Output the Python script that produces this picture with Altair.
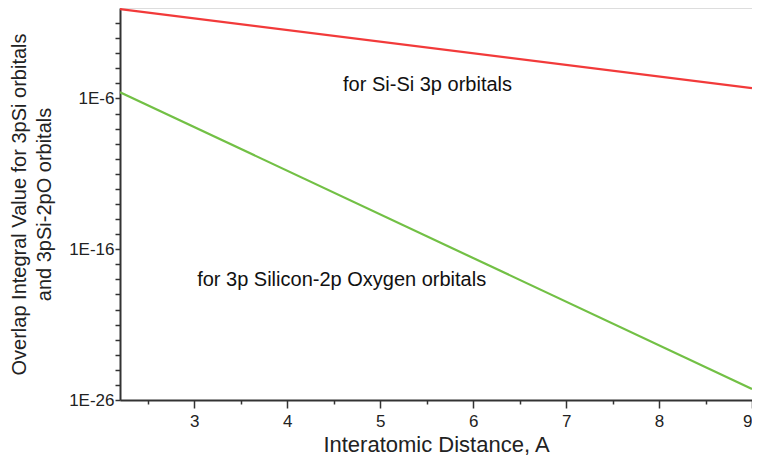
import altair as alt
import pandas as pd

# Data (straight lines on a log axis)
distance = [2.2, 9.0]
si_si = [0.85, 4.8e-6]
si_o = [2.6e-6, 5.4e-26]

labels_text = ["for Si-Si 3p orbitals", "for 3p Silicon-2p Oxygen orbitals"]
labels_x = [4.6, 3.03]
labels_y = [8e-6, 9e-19]

x_ticks = [2.5, 3, 3.5, 4, 4.5, 5, 5.5, 6, 6.5, 7, 7.5, 8, 8.5, 9]
y_ticks = [10.0 ** (-k) for k in range(26, 0, -1)]

rows = []
for d, v in zip(distance, si_si):
    rows.append({"x": d, "y": v, "series": "Si-Si"})
for d, v in zip(distance, si_o):
    rows.append({"x": d, "y": v, "series": "Si-O"})
df = pd.DataFrame(rows)
tdf = pd.DataFrame({"x": labels_x, "y": labels_y, "t": labels_text})

font = "Liberation Sans"

xscale = alt.Scale(domain=[2.2, 9.0], nice=False, zero=False)
yscale = alt.Scale(type="log", domain=[1e-26, 1.0], nice=False)

xaxis = alt.Axis(
    title="Interatomic Distance, A",
    values=x_ticks,
    labelExpr="datum.value % 1 === 0 ? datum.value : ''",
    tickSize={"condition": {"test": "datum.value % 1 === 0", "value": 8}, "value": 4},
    tickColor="#333333",
    tickWidth=1.5,
    domainColor="#333333",
    domainWidth=2,
    labelFont=font,
    labelFontSize=17,
    labelColor="#222222",
    labelPadding=5,
    titleFont=font,
    titleFontSize=22,
    titleFontWeight="normal",
    titleColor="#222222",
    titlePadding=5,
    grid=False,
)

yaxis = alt.Axis(
    title=["Overlap Integral Value for 3pSi orbitals", "and 3pSi-2pO orbitals"],
    values=y_ticks,
    labelExpr="indexof([-26, -16, -6], round(log(datum.value) / LN10)) >= 0 ? '1E' + round(log(datum.value) / LN10) : ''",
    tickSize=5,
    tickColor="#333333",
    tickWidth=1.5,
    domainColor="#333333",
    domainWidth=2,
    labelFont=font,
    labelFontSize=17,
    labelColor="#222222",
    labelPadding=1,
    titleFont=font,
    titleFontSize=20,
    titleFontWeight="normal",
    titleColor="#222222",
    titlePadding=14,
    titleLineHeight=25,
    grid=False,
)

lines = alt.Chart(df).mark_line(strokeWidth=2.2, clip=True).encode(
    x=alt.X("x:Q", scale=xscale, axis=xaxis),
    y=alt.Y("y:Q", scale=yscale, axis=yaxis),
    color=alt.Color(
        "series:N",
        scale=alt.Scale(domain=["Si-Si", "Si-O"], range=["#f23a3a", "#72c045"]),
        legend=None,
    ),
)

texts = alt.Chart(tdf).mark_text(
    align="left", baseline="middle", font=font, fontSize=20, color="#111111"
).encode(
    x=alt.X("x:Q", scale=xscale),
    y=alt.Y("y:Q", scale=yscale),
    text="t:N",
)

chart = (
    alt.layer(lines, texts)
    .properties(
        width=632,
        height=392,
        autosize=alt.AutoSizeParams(type="none"),
        padding={"left": 112, "top": 0, "right": 0, "bottom": 59},
    )
    .configure_view(stroke="#d0d0d0", strokeWidth=1.5)
    .configure(background="white")
)

chart.save("out.html", embed_options={"renderer": "svg", "actions": False})
